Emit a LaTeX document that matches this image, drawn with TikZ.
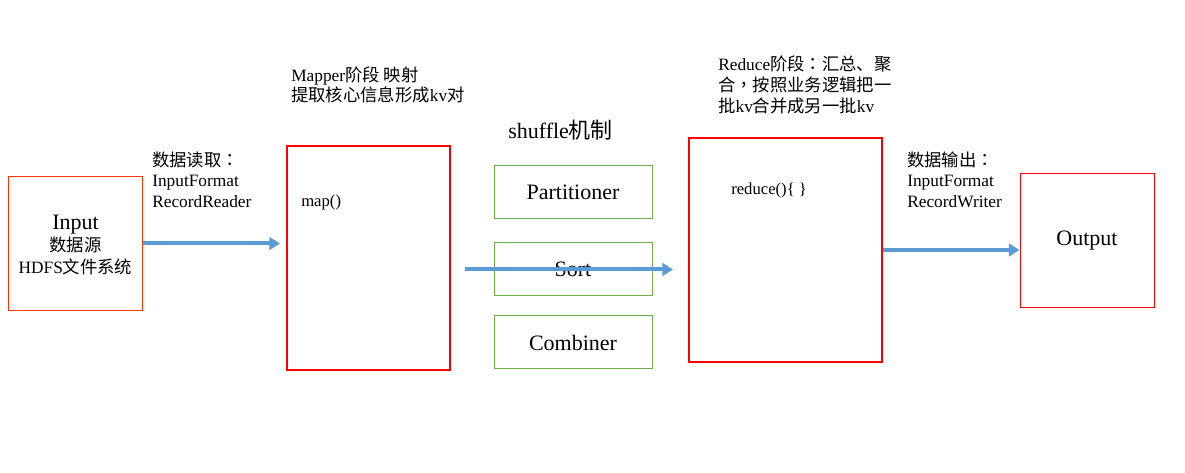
\documentclass[tikz,border=0pt]{standalone}
\usepackage{fontspec}
\setmainfont{Liberation Serif}
\newfontfamily\cjk{Noto Sans CJK SC}
\newfontfamily\cjkp{Noto Sans CJK TC}
\usetikzlibrary{arrows.meta}
\definecolor{arrblue}{HTML}{5B9BD5}
\definecolor{boxgreen}{HTML}{70AD47}
\definecolor{boxred}{HTML}{FF0000}
\definecolor{boxorange}{HTML}{FF3300}
\begin{document}
\begin{tikzpicture}[x=0.75pt,y=-0.75pt,
  lbl/.style={anchor=base west, inner sep=0pt, font=\fontsize{13}{15}\selectfont},
  code/.style={anchor=base west, inner sep=0pt, font=\fontsize{12.5}{15}\selectfont},
  boxtxt/.style={anchor=base, inner sep=0pt, font=\fontsize{13}{15}\selectfont},
  smallbox/.style={draw=#1, line width=0.75pt, minimum width=100.5pt, minimum height=100.5pt, inner sep=0pt},
  bigbox/.style={draw=boxred, line width=1.5pt, minimum height=168pt, inner sep=0pt},
  greenbox/.style={draw=boxgreen, line width=0.75pt, minimum width=118.5pt, minimum height=39.75pt, inner sep=0pt, font=\fontsize{16.5}{18}\selectfont},
  arr/.style={draw=arrblue, line width=3pt, -{Triangle[length=8pt,width=9.5pt]}},
]
\useasboundingbox (0,0) rectangle (1185,473);

% boxes
\node[smallbox=boxorange] (input) at (75.5,243.5) {};
\node[boxtxt, font=\fontsize{16.5}{18}\selectfont] (inT1) at (75.5,230) {Input};
\node[boxtxt] (inT2) at (75.5,252) {{\cjk 数据源}};
\node[boxtxt] (inT3) at (75.5,274) {HDFS{\cjk 文件系统}};
\node[bigbox, minimum width=122.25pt] (mapper) at (368.5,258) {};
\node[greenbox] (part) at (573,192.5) {Partitioner};
\node[greenbox] (sort) at (573,269.5) {Sort};
\node[greenbox] (comb) at (573,342.5) {Combiner};
\node[bigbox, minimum width=144.75pt] (reduce) at (785.5,250) {};
\node[smallbox=boxred, font=\fontsize{16.5}{18}\selectfont] (output) at (1087,241) {Output};

% labels
\node[lbl] (inl1) at (152,167) {{\cjk 数据读取}{\cjkp ：}};
\node[lbl] (inl2) at (152,187) {InputFormat};
\node[lbl] (inl3) at (152,208) {RecordReader};

\node[lbl] (mpl1) at (291,82) {Mapper{\cjk 阶段 映射}};
\node[lbl] (mpl2) at (291,102) {{\cjk 提取核心信息形成}kv{\cjk 对}};
\node[code] (mapfn) at (301,207) {map()};

\node[anchor=base west, inner sep=0pt, font=\fontsize{16.5}{18}\selectfont] (shuf) at (508,139) {shuffle{\cjk 机制}};

\node[lbl] (rdl1) at (718,71) {Reduce{\cjk 阶段}{\cjkp ：}{\cjk 汇总、聚}};
\node[lbl] (rdl2) at (718,92) {{\cjk 合}{\cjkp ，}{\cjk 按照业务逻辑把一}};
\node[lbl] (rdl3) at (718,113) {{\cjk 批}kv{\cjk 合并成另一批}kv};
\node[code] (redfn) at (731,195) {reduce()\{ \}};

\node[lbl] (outl1) at (907,167) {{\cjk 数据输出}{\cjkp ：}};
\node[lbl] (outl2) at (907,187) {InputFormat};
\node[lbl] (outl3) at (907,208) {RecordWriter};

% arrows
\coordinate (a2s) at (465,269.5);
\coordinate (a2e) at (673,269.5);
\draw[arr, shorten >=4.5pt] (input.east) -- (input.east -| mapper.west);
\draw[arr] (a2s) -- (a2e);
\draw[arr] (reduce.east) -- (reduce.east -| output.west);
\end{tikzpicture}
\end{document}
